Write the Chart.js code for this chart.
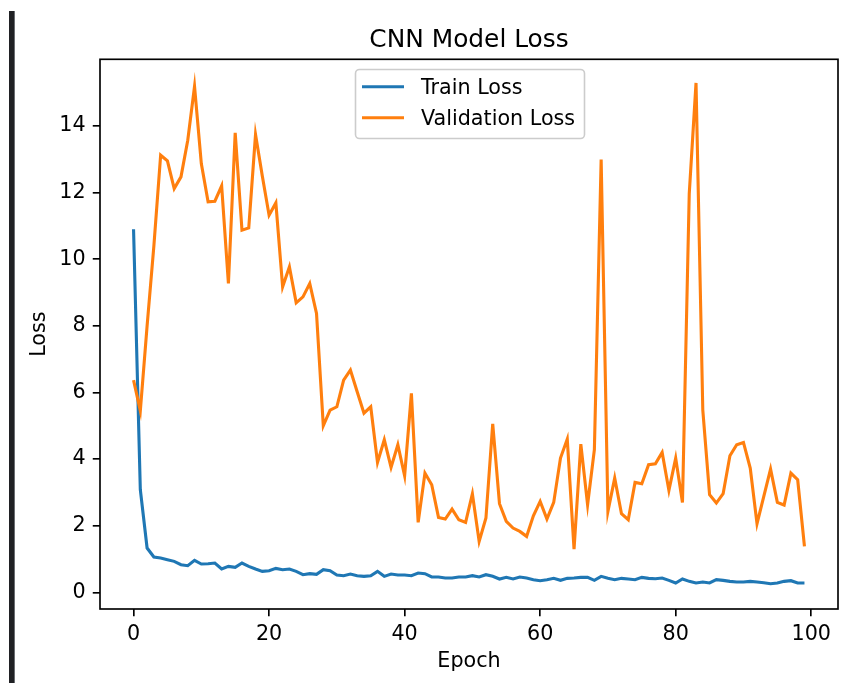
<!DOCTYPE html>
<html>
<head>
<meta charset="utf-8">
<script src="https://cdn.jsdelivr.net/npm/chart.js@4/dist/chart.umd.min.js"></script>
<style>
    html, body { margin: 0; padding: 0; background: #fff; }
    #wrap { position: relative; width: 844px; height: 683px; }
    #cellBar { position: absolute; left: 9px; top: 11px; width: 5px; height: 672px; background: #202124; border-right: 1px solid #6b6e72; }
    canvas { position: absolute; left: 0; top: 0; }
</style>
</head>
<body>
<div id="wrap">
    <canvas id="lossChart" width="844" height="683"></canvas>
    <div id="cellBar"></div>
</div>
<script>
const epochs = Array.from({ length: 100 }, (_, i) => i);

const trainLoss = [
    10.9, 3.08, 1.33, 1.06, 1.03, 0.98, 0.93, 0.83, 0.80, 0.96,
    0.85, 0.86, 0.88, 0.70, 0.78, 0.75, 0.88, 0.78, 0.70, 0.63,
    0.65, 0.72, 0.68, 0.70, 0.63, 0.53, 0.56, 0.54, 0.68, 0.65,
    0.52, 0.50, 0.55, 0.50, 0.48, 0.50, 0.63, 0.48, 0.55, 0.52,
    0.52, 0.50, 0.58, 0.56, 0.46, 0.46, 0.43, 0.43, 0.46, 0.46,
    0.50, 0.46, 0.53, 0.48, 0.40, 0.45, 0.40, 0.46, 0.43, 0.38,
    0.35, 0.38, 0.42, 0.36, 0.42, 0.43, 0.45, 0.45, 0.36, 0.48,
    0.42, 0.38, 0.42, 0.40, 0.38, 0.45, 0.42, 0.41, 0.43, 0.36,
    0.28, 0.40, 0.33, 0.28, 0.31, 0.28, 0.38, 0.36, 0.33, 0.31,
    0.31, 0.33, 0.31, 0.29, 0.26, 0.28, 0.33, 0.35, 0.28, 0.28
];

const valLoss = [
    6.37, 5.45, 8.0, 10.4, 13.12, 12.95, 12.12, 12.47, 13.57, 15.19,
    12.87, 11.72, 11.74, 12.2, 9.27, 13.79, 10.87, 10.94, 13.74, 12.5,
    11.32, 11.69, 9.17, 9.77, 8.69, 8.87, 9.27, 8.37, 5.0, 5.47,
    5.57, 6.37, 6.67, 6.02, 5.38, 5.57, 3.9, 4.58, 3.75, 4.43,
    3.5, 5.97, 2.1, 3.58, 3.23, 2.25, 2.2, 2.5, 2.18, 2.1,
    2.96, 1.53, 2.23, 5.06, 2.66, 2.13, 1.93, 1.83, 1.68, 2.3,
    2.73, 2.2, 2.7, 4.03, 4.6, 1.3, 4.45, 2.63, 4.28, 12.99,
    2.43, 3.43, 2.36, 2.18, 3.3, 3.26, 3.83, 3.86, 4.2, 3.06,
    4.03, 2.7, 11.97, 15.29, 5.47, 2.93, 2.68, 2.96, 4.1, 4.43,
    4.5, 3.73, 2.06, 2.88, 3.7, 2.7, 2.62, 3.58, 3.38, 1.38
];

const xTicks = [0, 20, 40, 60, 80, 100];
const yTicks = [0, 2, 4, 6, 8, 10, 12, 14];

const seriesNames = ['Train Loss', 'Validation Loss'];
const seriesColors = ['#1f77b4', '#ff7f0e'];
const chartTitle = 'CNN Model Loss';

const FONT = 'DejaVu Sans';
const PT = 2.07; // px per point

// title, box frame and legend drawn like matplotlib
const mplDecor = {
    id: 'mplDecor',
    afterDraw(chart) {
        const ctx = chart.ctx;
        const a = chart.chartArea;
        ctx.save();

        // axes frame
        ctx.strokeStyle = '#000';
        ctx.lineWidth = 0.8 * PT;
        ctx.strokeRect(a.left, a.top, a.right - a.left, a.bottom - a.top);

        // title
        ctx.fillStyle = '#000';
        ctx.font = `${12 * PT}px "${FONT}"`;
        ctx.textAlign = 'center';
        ctx.textBaseline = 'alphabetic';
        ctx.fillText(chartTitle, (a.left + a.right) / 2, 46.5);

        // legend
        const bx = 355, by = 69, bw = 229, bh = 69;
        ctx.beginPath();
        ctx.roundRect(bx + 0.5, by + 0.5, bw, bh, 4);
        ctx.fillStyle = 'rgba(255,255,255,0.8)';
        ctx.fill();
        ctx.strokeStyle = '#cccccc';
        ctx.lineWidth = 1.6;
        ctx.stroke();

        ctx.font = `${10 * PT}px "${FONT}"`;
        ctx.textAlign = 'left';
        const rows = [86.7, 117.7];
        seriesNames.forEach((name, i) => {
            ctx.beginPath();
            ctx.strokeStyle = seriesColors[i];
            ctx.lineWidth = 1.5 * PT;
            ctx.moveTo(362, rows[i]);
            ctx.lineTo(404, rows[i]);
            ctx.stroke();
            ctx.fillStyle = '#000';
            ctx.fillText(name, 421, rows[i] + 7.6);
        });

        ctx.restore();
    }
};

const tickFont = { family: FONT, size: 10 * PT };

new Chart(document.getElementById('lossChart'), {
    type: 'line',
    data: {
        datasets: [
            {
                label: seriesNames[0],
                data: epochs.map((e, i) => ({ x: e, y: trainLoss[i] })),
                borderColor: seriesColors[0],
                borderWidth: 1.5 * PT,
                pointRadius: 0,
                tension: 0,
                order: 1
            },
            {
                label: seriesNames[1],
                data: epochs.map((e, i) => ({ x: e, y: valLoss[i] })),
                borderColor: seriesColors[1],
                borderWidth: 1.5 * PT,
                pointRadius: 0,
                tension: 0,
                order: 0
            }
        ]
    },
    options: {
        responsive: false,
        devicePixelRatio: 1,
        animation: false,
        layout: { padding: { top: 59.3, right: 6, bottom: 0, left: 0 } },
        plugins: {
            legend: { display: false },
            title: { display: false },
            tooltip: { enabled: false }
        },
        scales: {
            x: {
                type: 'linear',
                min: -4.95,
                max: 103.95,
                afterBuildTicks: s => { s.ticks = xTicks.map(v => ({ value: v })); },
                afterFit: s => { s.height = 74; },
                border: { display: false },
                grid: { drawOnChartArea: false, drawTicks: true, tickLength: 3.5 * PT, color: '#000', lineWidth: 0.8 * PT },
                ticks: { color: '#000', font: tickFont, padding: 6, autoSkip: false, maxRotation: 0 },
                title: { display: true, text: 'Epoch', color: '#000', font: tickFont, padding: { top: 0, bottom: 8.6 } }
            },
            y: {
                min: -0.5,
                max: 16.0,
                afterBuildTicks: s => { s.ticks = yTicks.map(v => ({ value: v })); },
                afterFit: s => { s.width = 100; },
                border: { display: false },
                grid: { drawOnChartArea: false, drawTicks: true, tickLength: 3.5 * PT, color: '#000', lineWidth: 0.8 * PT },
                ticks: { color: '#000', font: tickFont, padding: 7.2, autoSkip: false },
                title: { display: true, text: 'Loss', color: '#000', font: tickFont, padding: { top: 27.6, bottom: 0 } }
            }
        }
    },
    plugins: [mplDecor]
});
</script>
</body>
</html>
